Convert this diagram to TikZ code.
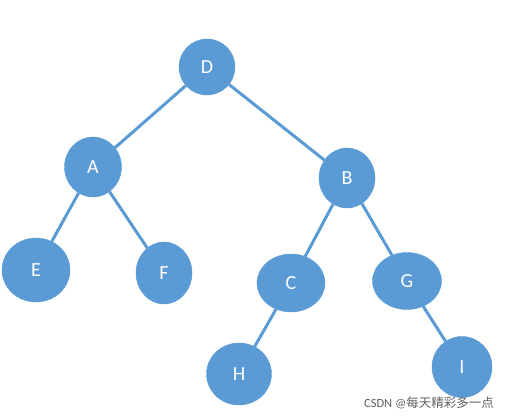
\documentclass[tikz,border=0pt]{standalone}
\usepackage{fontspec}
\setmainfont{Carlito}
\newfontfamily\cjk{Noto Sans CJK SC}
\usetikzlibrary{shapes.geometric}
\definecolor{nodeblue}{HTML}{5B9BD5}
\definecolor{wmgray}{HTML}{606060}
\begin{document}
\begin{tikzpicture}[x=1pt,y=-1pt,
  tnode/.style={ellipse, fill=nodeblue, draw=nodeblue, inner sep=0pt, text=white, font=\fontsize{20}{20}\selectfont},
  edge/.style={draw=nodeblue, line width=3pt}]
\useasboundingbox[fill=white] (0,0) rectangle (508,418);
\node[tnode, minimum width=56pt, minimum height=56pt] (D) at (207,67) {D};
\node[tnode, minimum width=57pt, minimum height=60pt] (A) at (93,167) {A};
\node[tnode, minimum width=56pt, minimum height=60pt] (B) at (347,178) {B};
\node[tnode, minimum width=68pt, minimum height=64pt] (E) at (36,270) {E};
\node[tnode, minimum width=56pt, minimum height=62pt] (F) at (164,273) {F};
\node[tnode, minimum width=68pt, minimum height=58pt] (C) at (291,283) {C};
\node[tnode, minimum width=69pt, minimum height=57pt] (G) at (407,281) {G};
\node[tnode, minimum width=65pt, minimum height=62pt] (H) at (239,374) {H};
\node[tnode, minimum width=60pt, minimum height=61pt] (I) at (462,367) {I};
\draw[edge] (D) -- (A);
\draw[edge] (D) -- (B);
\draw[edge] (A) -- (E);
\draw[edge] (A) -- (F);
\draw[edge] (B) -- (C);
\draw[edge] (B) -- (G);
\draw[edge] (C) -- (H);
\draw[edge] (G) -- (I);
\node[text=wmgray, font=\fontsize{12.5}{12.5}\selectfont, anchor=east, inner sep=0pt] (wm) at (494,403) {CSDN @{\cjk 每天精彩多一点}};
\end{tikzpicture}
\end{document}
